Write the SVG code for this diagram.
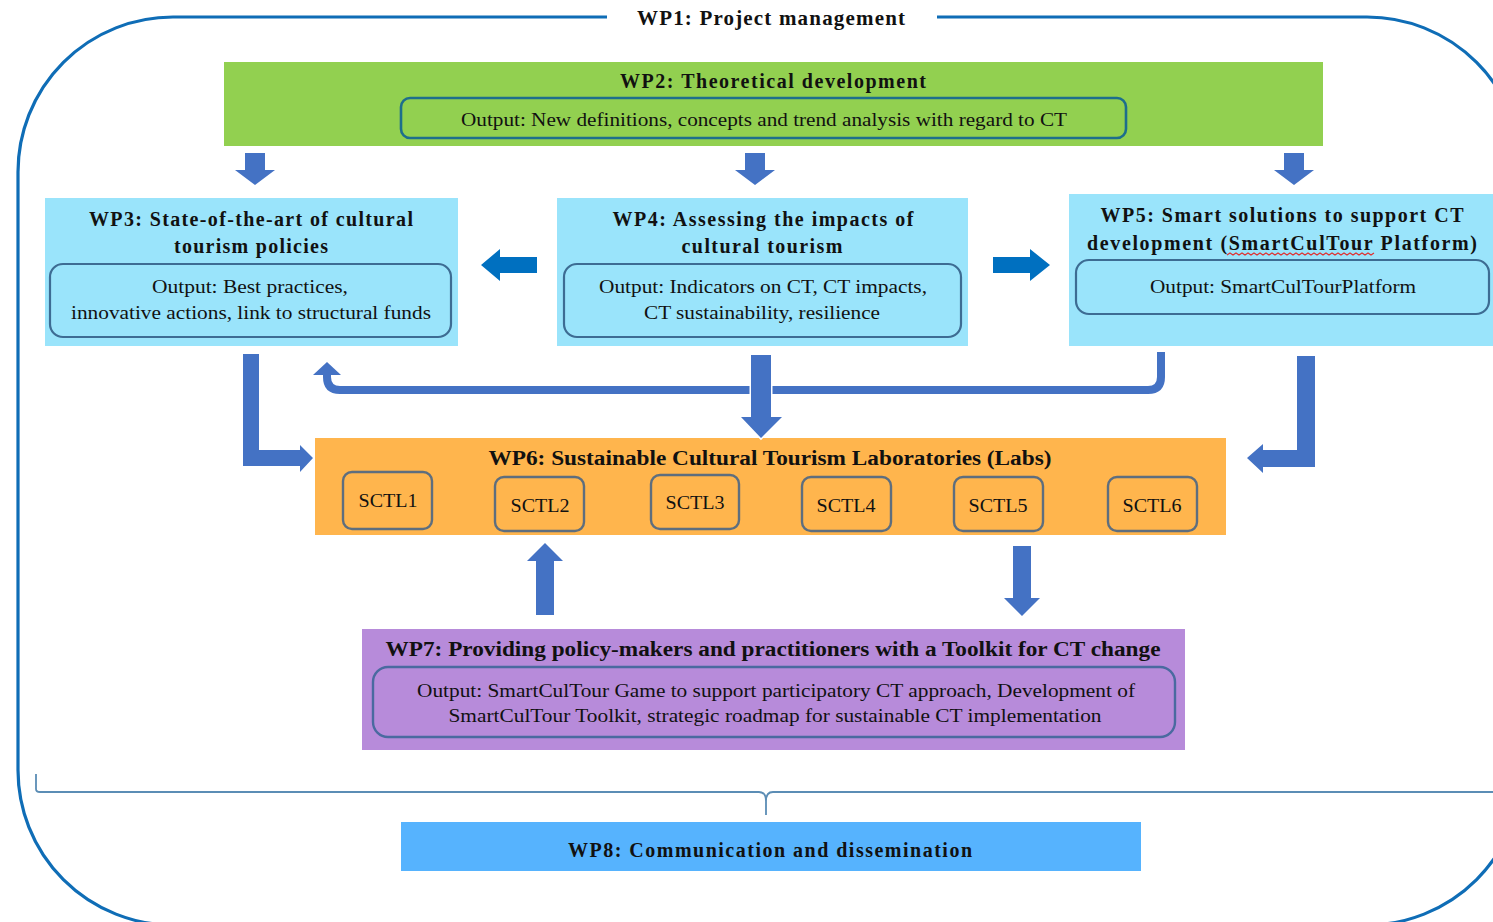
<svg xmlns="http://www.w3.org/2000/svg" width="1493" height="922" viewBox="0 0 1493 922">
<style>
text{font-family:"Liberation Serif","Times New Roman",serif;fill:#111;}
.t{font-weight:bold;font-size:20px;}
.o{font-size:19px;}
.s{font-size:19px;}
.blk{fill:#4472C4;}
.blu{fill:#0070C0;}
.wp35{fill:#9AE4FB;}
.inb{fill:none;stroke:#3D6C93;stroke-width:2.2;}
.sc{fill:#FFB54D;stroke:#5E6E7E;stroke-width:2.4;}
</style>
<rect width="1493" height="922" fill="#ffffff"/>
<g id="wp1">
<rect x="18" y="17" width="1504" height="908" rx="155" ry="155" fill="none" stroke="#0F6DB6" stroke-width="3.2"/>
<rect x="607" y="6" width="330" height="24" fill="#ffffff"/>
<text class="t" x="771" y="25" text-anchor="middle" textLength="268" lengthAdjust="spacing" style="font-size:21px">WP1: Project management</text>
</g>
<g id="wp2">
<rect x="224" y="62" width="1099" height="84" fill="#92D050"/>
<text class="t" x="773" y="88" text-anchor="middle" textLength="306" lengthAdjust="spacing">WP2: Theoretical development</text>
<rect x="401" y="98" width="725" height="40" rx="9" fill="none" stroke="#1D6E8C" stroke-width="2.6"/>
<text class="o" x="764" y="126" text-anchor="middle" textLength="606" lengthAdjust="spacingAndGlyphs">Output: New definitions, concepts and trend analysis with regard to CT</text>
</g>
<g id="wp3">
<rect class="wp35" x="45" y="198" width="413" height="148"/>
<text class="t" x="251" y="226" text-anchor="middle" textLength="324" lengthAdjust="spacing">WP3: State-of-the-art  of cultural</text>
<text class="t" x="251" y="253" text-anchor="middle" textLength="154" lengthAdjust="spacing">tourism  policies</text>
<rect class="inb" x="50" y="264" width="401" height="73" rx="13"/>
<text class="o" x="250" y="293" text-anchor="middle" textLength="196" lengthAdjust="spacingAndGlyphs">Output: Best practices,</text>
<text class="o" x="251" y="319" text-anchor="middle" textLength="360" lengthAdjust="spacingAndGlyphs">innovative actions, link to structural funds</text>
</g>
<g id="wp4">
<rect class="wp35" x="557" y="198" width="411" height="148"/>
<text class="t" x="763" y="226" text-anchor="middle" textLength="301" lengthAdjust="spacing">WP4: Assessing the impacts of</text>
<text class="t" x="762" y="253" text-anchor="middle" textLength="161" lengthAdjust="spacing">cultural tourism</text>
<rect class="inb" x="564" y="264" width="397" height="73" rx="13"/>
<text class="o" x="763" y="293" text-anchor="middle" textLength="328" lengthAdjust="spacingAndGlyphs">Output: Indicators on CT, CT impacts,</text>
<text class="o" x="762" y="319" text-anchor="middle" textLength="236" lengthAdjust="spacingAndGlyphs">CT sustainability, resilience</text>
</g>
<g id="wp5">
<rect class="wp35" x="1069" y="194" width="424" height="152"/>
<text class="t" x="1282" y="222" text-anchor="middle" textLength="363" lengthAdjust="spacing">WP5: Smart solutions to support CT</text>
<text class="t" x="1282" y="250" text-anchor="middle" textLength="390" lengthAdjust="spacing">development (SmartCulTour Platform)</text>
<polyline fill="none" stroke="#E03030" stroke-width="1.2" points="1227,255 1230,253 1233,255 1236,253 1239,255 1242,253 1245,255 1248,253 1251,255 1254,253 1257,255 1260,253 1263,255 1266,253 1269,255 1272,253 1275,255 1278,253 1281,255 1284,253 1287,255 1290,253 1293,255 1296,253 1299,255 1302,253 1305,255 1308,253 1311,255 1314,253 1317,255 1320,253 1323,255 1326,253 1329,255 1332,253 1335,255 1338,253 1341,255 1344,253 1347,255 1350,253 1353,255 1356,253 1359,255 1362,253 1365,255 1368,253 1371,255 1374,253"/>
<rect class="inb" x="1076" y="260" width="413" height="54" rx="13"/>
<text class="o" x="1283" y="293" text-anchor="middle" textLength="266" lengthAdjust="spacingAndGlyphs">Output: SmartCulTourPlatform</text>
</g>
<g id="wp6">
<rect x="315" y="438" width="911" height="97" fill="#FFB54D"/>
<text class="t" x="770" y="465" text-anchor="middle" textLength="563" lengthAdjust="spacingAndGlyphs">WP6: Sustainable Cultural Tourism Laboratories (Labs)</text>
</g>
<g id="sctl1"><rect class="sc" x="343" y="472" width="89" height="57" rx="9"/><text class="s" x="388" y="507" text-anchor="middle" textLength="59" lengthAdjust="spacingAndGlyphs">SCTL1</text></g>
<g id="sctl2"><rect class="sc" x="495" y="477" width="89" height="54" rx="9"/><text class="s" x="540" y="512" text-anchor="middle" textLength="59" lengthAdjust="spacingAndGlyphs">SCTL2</text></g>
<g id="sctl3"><rect class="sc" x="651" y="475" width="88" height="54" rx="9"/><text class="s" x="695" y="509" text-anchor="middle" textLength="59" lengthAdjust="spacingAndGlyphs">SCTL3</text></g>
<g id="sctl4"><rect class="sc" x="802" y="477" width="89" height="54" rx="9"/><text class="s" x="846" y="512" text-anchor="middle" textLength="59" lengthAdjust="spacingAndGlyphs">SCTL4</text></g>
<g id="sctl5"><rect class="sc" x="954" y="477" width="89" height="54" rx="9"/><text class="s" x="998" y="512" text-anchor="middle" textLength="59" lengthAdjust="spacingAndGlyphs">SCTL5</text></g>
<g id="sctl6"><rect class="sc" x="1108" y="477" width="89" height="54" rx="9"/><text class="s" x="1152" y="512" text-anchor="middle" textLength="59" lengthAdjust="spacingAndGlyphs">SCTL6</text></g>
<g id="wp7">
<rect x="362" y="629" width="823" height="121" fill="#B78BDA"/>
<text class="t" x="773" y="656" text-anchor="middle" textLength="775" lengthAdjust="spacingAndGlyphs">WP7: Providing policy-makers and practitioners with a Toolkit for CT change</text>
<rect x="373" y="667" width="802" height="70" rx="15" fill="none" stroke="#4A6AA0" stroke-width="2.4"/>
<text class="o" x="776" y="697" text-anchor="middle" textLength="718" lengthAdjust="spacingAndGlyphs">Output: SmartCulTour Game to support participatory CT approach, Development of</text>
<text class="o" x="775" y="722" text-anchor="middle" textLength="653" lengthAdjust="spacingAndGlyphs">SmartCulTour Toolkit, strategic roadmap for sustainable CT implementation</text>
</g>
<g id="wp8">
<rect x="401" y="822" width="740" height="49" fill="#56B3FE"/>
<text class="t" x="770" y="857" text-anchor="middle" textLength="404" lengthAdjust="spacing">WP8: Communication and dissemination</text>
</g>
<g id="connectors">
<polygon class="blk" points="245,153 265,153 265,170 275,170 255,185 235,170 245,170"/>
<polygon class="blk" points="745,153 765,153 765,170 775,170 755,185 735,170 745,170"/>
<polygon class="blk" points="1284,153 1304,153 1304,170 1314,170 1294,185 1274,170 1284,170"/>
<polygon class="blu" points="537,257 537,273 500,273 500,281 481,265 500,249 500,257"/>
<polygon class="blu" points="993,257 993,273 1030,273 1030,281 1050,265 1030,249 1030,257"/>
<polygon class="blk" points="243,354 259,354 259,450 300,450 300,445 313,458 300,472 300,466 243,466"/>
<polygon class="blk" points="1297,356 1315,356 1315,467 1263,467 1263,473 1247,458 1263,444 1263,450 1297,450"/>
<path d="M1161 352 V377 Q1161 390 1148 390 H340 Q327 390 327 377 V374" fill="none" stroke="#4472C4" stroke-width="8"/>
<polygon class="blk" points="313,375 341,375 327,362"/>
<polygon class="blk" stroke="#ffffff" stroke-width="3" paint-order="stroke" points="751,355 771,355 771,417 782,417 761,438 741,417 751,417"/>
<polygon class="blk" points="536,560 554,560 554,615 536,615"/>
<polygon class="blk" points="527,561 563,561 545,543"/>
<polygon class="blk" points="1013,546 1031,546 1031,598 1040,598 1022,616 1004,598 1013,598"/>
<path d="M36 774 V789 Q36 792 40 792 H759 Q766 792 766 801 Q766 792 773 792 H1493 M766 800 V815" fill="none" stroke="#5B8DB5" stroke-width="1.8"/>
</g>
</svg>
